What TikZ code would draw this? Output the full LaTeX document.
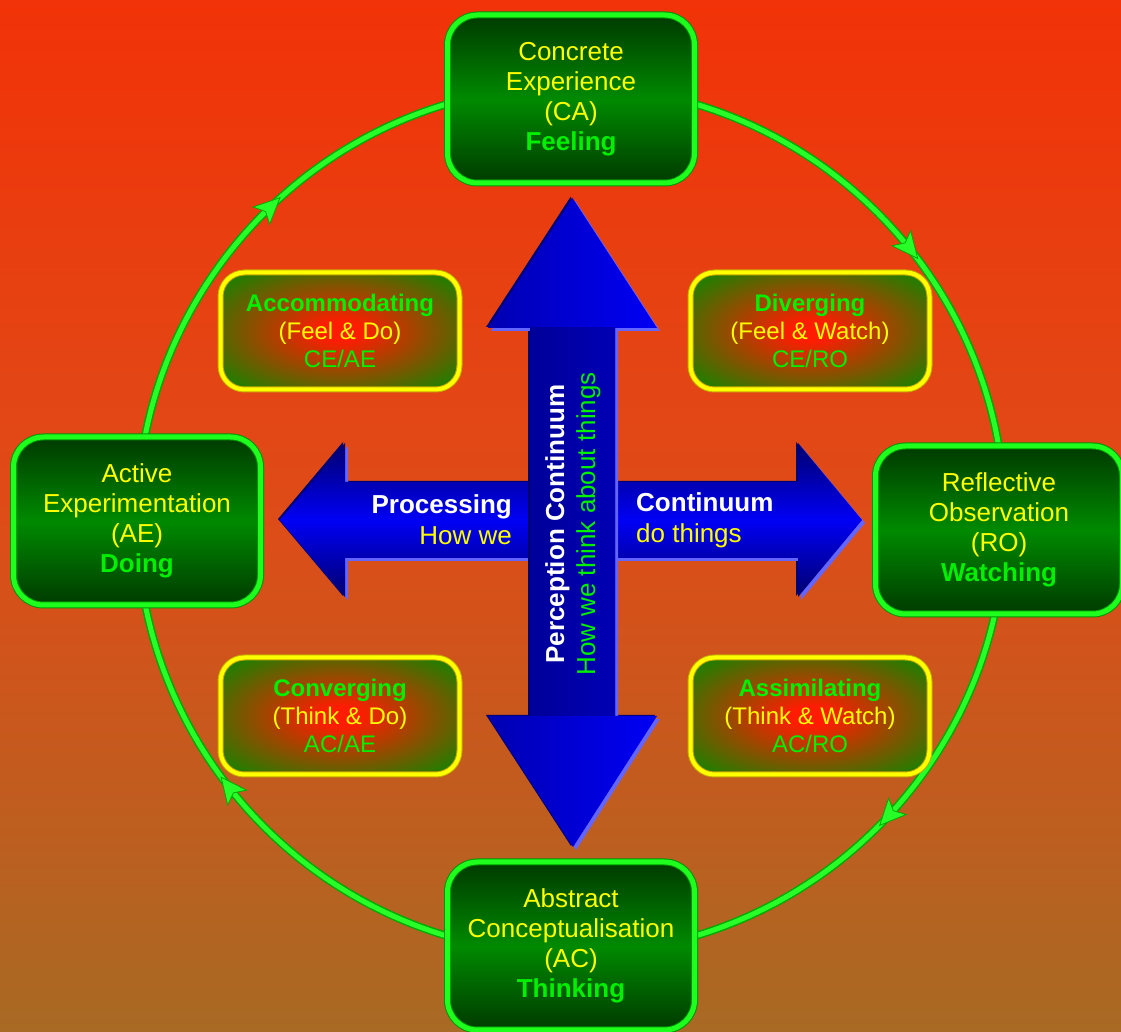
\documentclass[tikz,border=0pt]{standalone}
\usepackage{fontspec}
\setmainfont{Liberation Sans}
\usetikzlibrary{decorations.markings}

\definecolor{bgtop}{RGB}{242,50,8}
\definecolor{bgmid}{RGB}{222,76,24}
\definecolor{bgbot}{RGB}{168,106,36}
\definecolor{ringline}{RGB}{40,255,40}
\definecolor{ringedge}{RGB}{0,170,0}
\definecolor{stageline}{RGB}{30,255,30}
\definecolor{stageedge}{RGB}{0,150,0}
\definecolor{stagedark}{RGB}{0,58,0}
\definecolor{stagemid}{RGB}{0,138,0}
\definecolor{txtyellow}{RGB}{255,255,0}
\definecolor{txtgreen}{RGB}{0,240,0}
\definecolor{styleline}{RGB}{255,255,0}
\definecolor{styleedge}{RGB}{200,170,0}
\definecolor{glowred}{RGB}{255,28,0}
\definecolor{glowgreen}{RGB}{38,124,0}
\definecolor{arrowblue}{RGB}{0,0,245}
\definecolor{arrowshaft}{RGB}{0,0,180}
\definecolor{arrownavy}{RGB}{0,0,110}
\definecolor{arrowlight}{RGB}{100,100,255}

\pgfdeclareradialshading{styleglow}{\pgfpoint{0bp}{0bp}}{%
  color(0bp)=(glowred); color(4bp)=(glowred); color(31bp)=(glowgreen); color(50bp)=(glowgreen)}

\begin{document}
\begin{tikzpicture}[x=1pt,y=1pt,
  stagebox/.style={rounded corners=30pt, minimum width=247pt, minimum height=168pt,
    inner sep=0pt, draw=stageedge, double=stageline, double distance=5pt, line width=1pt,
    top color=stagedark, bottom color=stagedark, middle color=stagemid,
    align=center, text=txtyellow, font=\fontsize{26}{30}\selectfont},
  stylebox/.style={rounded corners=24pt, minimum width=239pt, minimum height=117pt,
    inner sep=0pt, draw=styleedge, double=styleline, double distance=4pt, line width=1pt,
    shading=styleglow, align=center, text=txtyellow, font=\fontsize{24}{28}\selectfont},
  axislabel/.style={inner sep=0pt, font=\fontsize{26}{31}\selectfont},
  cycletip/.style={fill=ringline, draw=ringedge, line width=0.8pt, line join=miter}
]
\useasboundingbox (0,0) rectangle (1121,1032);

% background
\shade[top color=bgtop, bottom color=bgbot, middle color=bgmid] (0,0) rectangle (1121,1032);

% learning cycle ring (clockwise)
\coordinate (centre) at (571,512);
\draw[ringedge, line width=8pt] (centre) circle[radius=434pt];
\draw[ringline, line width=5pt,
  decoration={markings,
    mark=at position 0.119 with {\path[cycletip] (14,0) -- (-12,12) -- (-6,0) -- (-12,-12) -- cycle;},
    mark=at position 0.394 with {\path[cycletip] (14,0) -- (-12,12) -- (-6,0) -- (-12,-12) -- cycle;},
    mark=at position 0.628 with {\path[cycletip] (14,0) -- (-12,12) -- (-6,0) -- (-12,-12) -- cycle;},
    mark=at position 0.892 with {\path[cycletip] (14,0) -- (-12,12) -- (-6,0) -- (-12,-12) -- cycle;}},
  postaction={decorate}]
  (centre) ++(0:434pt) arc[start angle=0, end angle=-360, radius=434pt];

% the four stages
\node[stagebox] (ce) at (571,933) {Concrete\\Experience\\(CA)\\{\color{txtgreen}\bfseries Feeling}};
\node[stagebox] (ae) at (137,511) {Active\\Experimentation\\(AE)\\{\color{txtgreen}\bfseries Doing}};
\node[stagebox] (ro) at (999,502) {Reflective\\Observation\\(RO)\\{\color{txtgreen}\bfseries Watching}};
\node[stagebox] (ac) at (571,86) {Abstract\\Conceptualisation\\(AC)\\{\color{txtgreen}\bfseries Thinking}};

% the four learning styles
\node[stylebox] (accom) at (340,701) {{\color{txtgreen}\bfseries Accommodating}\\(Feel \& Do)\\{\color{txtgreen}CE/AE}};
\node[stylebox] (diver) at (810,701) {{\color{txtgreen}\bfseries Diverging}\\(Feel \& Watch)\\{\color{txtgreen}CE/RO}};
\node[stylebox] (conv) at (340,316) {{\color{txtgreen}\bfseries Converging}\\(Think \& Do)\\{\color{txtgreen}AC/AE}};
\node[stylebox] (assim) at (810,316) {{\color{txtgreen}\bfseries Assimilating}\\(Think \& Watch)\\{\color{txtgreen}AC/RO}};

% processing continuum (horizontal double arrow)
\foreach \dx/\dy/\col in {-2/1/arrownavy, 3/-3/arrowlight}{
  \fill[\col, shift={(\dx,\dy)}] (280,512) -- (345,589) -- (345,550) -- (798,550) -- (798,589)
    -- (862,512) -- (798,435) -- (798,474) -- (345,474) -- (345,435) -- cycle;
}
\shade[top color=arrownavy, bottom color=arrownavy, middle color=arrowblue]
  (280,512) -- (345,589) -- (345,550) -- (798,550) -- (798,589)
  -- (862,512) -- (798,435) -- (798,474) -- (345,474) -- (345,435) -- cycle;

% perception continuum (vertical double arrow)
\foreach \dx/\dy/\col in {-2/1/arrownavy, 3/-3/arrowlight}{
  \fill[\col, shift={(\dx,\dy)}] (572.5,834) -- (657,704) -- (615,704) -- (615,316) -- (657,316)
    -- (573,185) -- (488,316) -- (530,316) -- (530,704) -- (488,704) -- cycle;
}
\shade[left color=arrownavy!50!arrowblue, right color=arrowblue]
  (572.5,834) -- (657,704) -- (615,704) -- (615,316) -- (657,316)
  -- (573,185) -- (488,316) -- (530,316) -- (530,704) -- (488,704) -- cycle;
\shade[left color=arrowshaft!85!black, right color=arrowshaft] (530,316) rectangle (615,704);

% axis labels
\node[axislabel, anchor=east, align=right] (proc) at (512,512)
  {{\color{white}\bfseries Processing}\\{\color{txtyellow}How we}};
\node[axislabel, anchor=west, align=left] (cont) at (636,512)
  {{\color{white}\bfseries Continuum}\\{\color{txtyellow}do things}};
\node[axislabel, rotate=90, align=center] (perc) at (573,508)
  {{\color{white}\bfseries Perception Continuum}\\{\color{txtgreen}How we think about things}};
\end{tikzpicture}
\end{document}
